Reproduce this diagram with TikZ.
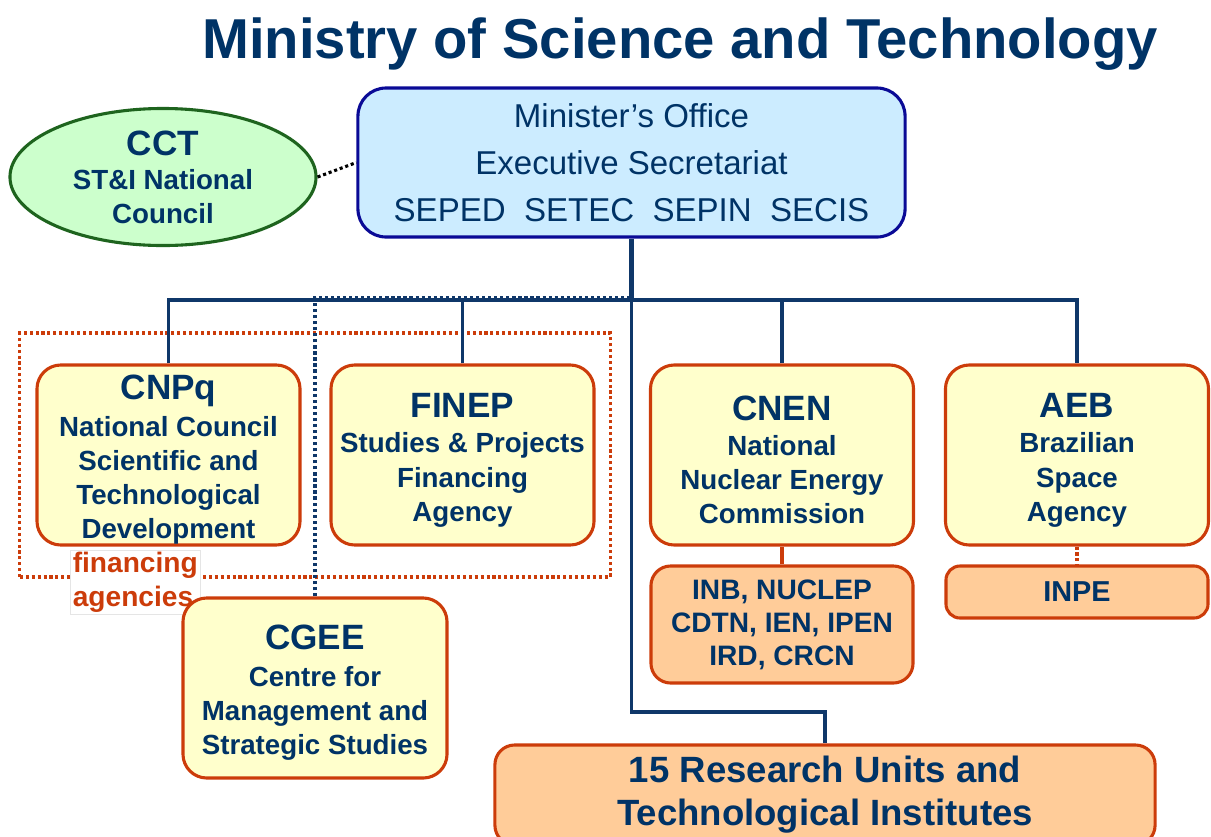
\documentclass[tikz,border=0pt]{standalone}
\usepackage{fontspec}
\setmainfont{Liberation Sans}
\usetikzlibrary{shapes.geometric}

\definecolor{navy}{RGB}{0,51,102}
\definecolor{wire}{RGB}{15,55,105}
\definecolor{rust}{RGB}{204,60,10}
\definecolor{paleyellow}{RGB}{255,255,204}
\definecolor{peach}{RGB}{255,204,153}
\definecolor{skyfill}{RGB}{204,236,255}
\definecolor{deepblue}{RGB}{10,10,150}
\definecolor{mint}{RGB}{204,255,204}
\definecolor{leaf}{RGB}{30,100,30}

\newcommand{\bodyfont}{\fontsize{19.7}{24.2}\selectfont\bfseries}
\newcommand{\headfont}{\fontsize{25}{30}\selectfont\bfseries}
% heading line of a box, with a strut so the whole block sits a little lower
\newcommand{\boxhead}[1]{{\headfont\rule{0pt}{24.5pt}#1}}

\tikzset{
  agency/.style={draw=rust, line width=2.2pt, fill=paleyellow, rounded corners=17pt,
    text=navy, align=center, font=\bodyfont, inner ysep=0pt,
    minimum width=6.575cm, minimum height=4.5cm},
  unitbox/.style={draw=rust, line width=2.2pt, fill=peach, rounded corners=14pt,
    text=navy, align=center, minimum width=6.55cm},
  wireline/.style={draw=wire, line width=2.3pt},
}

\begin{document}
\begin{tikzpicture}[x=0.025cm, y=-0.025cm]
  \useasboundingbox (0,0) rectangle (1211,836);

  % title
  \node [anchor=base, text=navy, font=\fontsize{40}{48}\selectfont\bfseries] (title) at (680,58)
    {Ministry of Science and Technology};

  % top level
  \node [draw=deepblue, line width=2.2pt, fill=skyfill, rounded corners=20pt, text=navy,
    align=center, font=\fontsize{23.5}{33.4}\selectfont, minimum width=13.675cm,
    minimum height=3.725cm] (min) at (631.5,162.5)
    {Minister's Office\\ Executive Secretariat\\ SEPED\ \ SETEC\ \ SEPIN\ \ SECIS};
  \node [draw=leaf, line width=2.2pt, fill=mint, ellipse, text=navy, align=center,
    font=\bodyfont, minimum width=7.65cm, minimum height=3.425cm, inner sep=0pt] (cct) at (163,177)
    {{\headfont CCT}\\ ST\&I National\\ Council};

  % financing agencies group
  \node [draw=rust, dotted, line width=2.2pt, minimum width=14.75cm, minimum height=6.1cm] (fingroup) at (315,455) {};
  \node [anchor=north west, draw=gray!20, line width=0.4pt, fill=white, text=rust, align=left,
    font=\fontsize{20}{23.5}\selectfont\bfseries, minimum width=3.25cm, minimum height=1.6cm,
    inner sep=1pt] (finlabel) at (70,550) {financing\\ agencies};

  % agencies
  \node [agency] (cnpq) at (168.5,455)
    {\boxhead{CNPq}\\[2pt] National Council\\ Scientific and\\ Technological\\ Development};
  \node [agency] (finep) at (462.5,455)
    {\boxhead{FINEP}\\[1pt] Studies \& Projects\\ Financing\\ Agency};
  \node [agency] (cnen) at (782,455)
    {\boxhead{CNEN}\\[1pt] National\\ Nuclear Energy\\ Commission};
  \node [agency] (aeb) at (1077,455)
    {\boxhead{AEB}\\[1pt] Brazilian\\ Space\\ Agency};
  \node [agency, minimum width=6.6cm] (cgee) at (315,688)
    {\boxhead{CGEE}\\[2pt] Centre for\\ Management and\\ Strategic Studies};

  % units below the agencies
  \node [unitbox, minimum height=2.925cm, font=\fontsize{20}{23.5}\selectfont\bfseries] (inb) at (782,624.5)
    {INB, NUCLEP\\ CDTN, IEN, IPEN\\ IRD, CRCN};
  \node [unitbox, minimum height=1.3cm, rounded corners=10pt, font=\fontsize{20.5}{24}\selectfont\bfseries] (inpe) at (1077,592)
    {INPE};
  \node [unitbox, minimum width=16.5cm, minimum height=2.5cm, font=\fontsize{26}{30.6}\selectfont\bfseries] (units) at (825,795)
    {15 Research Units and\\ Technological Institutes};

  % connectors
  \coordinate (bus) at (631.5,300);
  \coordinate (elbow) at (631.5,712);
  \draw [dotted, line width=2.2pt] (cct.east) -- (min.west);
  \draw [wireline, line width=3.5pt] (min.south) -- (bus);
  \draw [wireline] (bus) -- (elbow) -| (units.north);
  \draw [wireline] (cnpq.north) |- (bus) -| (aeb.north);
  \draw [wireline] (finep.north) -- (finep.north |- bus);
  \draw [wireline] (cnen.north) -- (cnen.north |- bus);
  \draw [wireline, dotted] (cgee.north) -- ([yshift=1.5pt]cgee.north |- bus) -- ([yshift=1.5pt]bus);
  \draw [draw=rust, line width=2.2pt] (cnen.south) -- (inb.north);
  \draw [draw=rust, line width=2.2pt, dotted] (aeb.south) -- (inpe.north);
\end{tikzpicture}
\end{document}
